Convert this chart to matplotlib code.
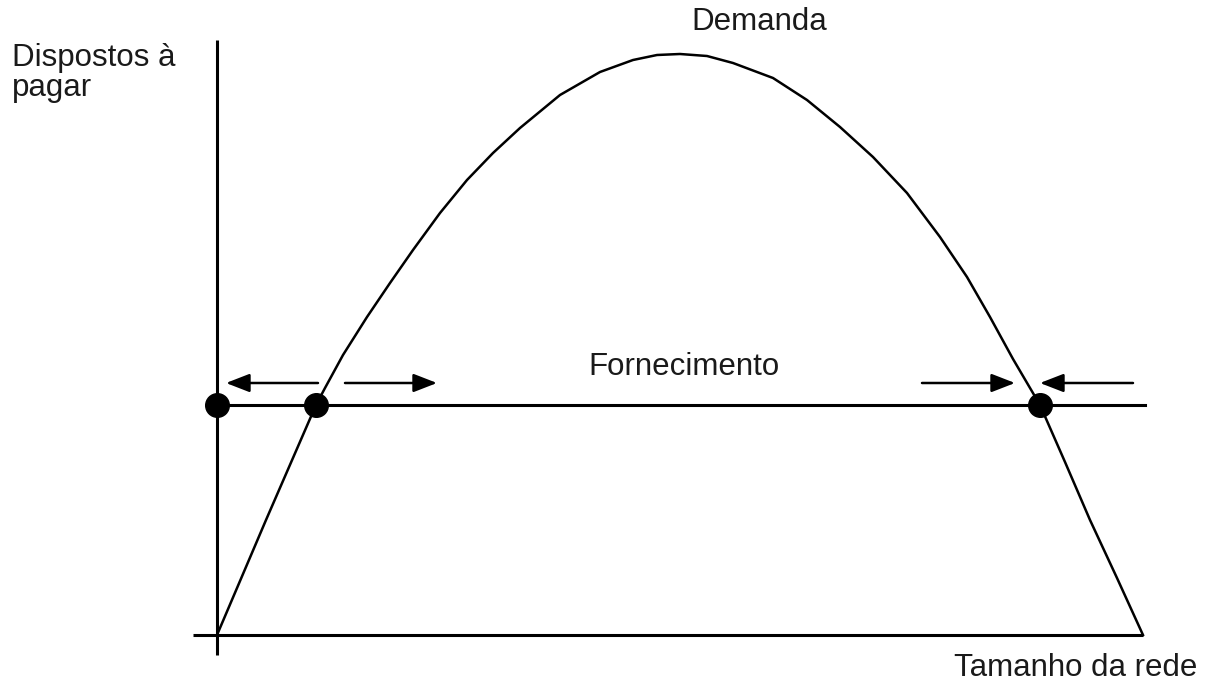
import matplotlib.pyplot as plt
import numpy as np

plt.rcParams["font.family"] = ["Liberation Sans", "DejaVu Sans"]

# Demand curve (x = network size, y = willingness to pay)
demand_x = [0, 49, 99, 108, 126, 150, 173, 196, 223, 250, 276, 303, 343, 383,
            416, 440, 463, 490, 516, 556, 590, 623, 656, 690, 723, 750, 773,
            796, 823, 848, 873, 900, 926]
demand_y = [0, 115, 230, 247, 280, 318, 352, 385, 422, 455, 482, 507, 540, 563,
            575, 580, 581, 579, 572, 557, 535, 508, 478, 442, 398, 358, 318,
            276, 230, 173, 115, 57, 0]

supply_level = 230
supply_end = 928
equilibria_x = [0, 99, 823]

# arrows: (start x, end x) at a fixed height above the supply line
arrow_y = 252
arrows = [(101, 9), (128, 220), (705, 798), (916, 823)]

fig = plt.figure(figsize=(12.09, 6.88), dpi=100)
ax = fig.add_axes([0, 0, 1, 1])
ax.set_xlim(-217, 992)
ax.set_ylim(-53, 635)
ax.axis("off")

# axes
ax.plot([-24, 926], [0, 0], color="black", lw=2.2, solid_capstyle="butt")
ax.plot([0, 0], [-20, 595], color="black", lw=2.2, solid_capstyle="butt")

# supply and demand
ax.plot([0, supply_end], [supply_level, supply_level], color="black", lw=2.2)
ax.plot(demand_x, demand_y, color="black", lw=1.8, solid_joinstyle="round")

ax.plot(equilibria_x, [supply_level] * len(equilibria_x), "o", color="black",
        markersize=17)

for x0, x1 in arrows:
    ax.annotate("", xy=(x1, arrow_y), xytext=(x0, arrow_y),
                arrowprops=dict(arrowstyle="-|>,head_length=0.9,head_width=0.35",
                                mutation_scale=16, color="black", lw=1.8,
                                shrinkA=0, shrinkB=0))

txt = "#1a1a1a"
ax.text(-205, 562, "Dispostos à\npagar", fontsize=22.5, color=txt,
        ha="left", va="center", linespacing=1.0)
ax.text(542, 613, "Demanda", fontsize=22.5, color=txt, ha="center", va="center")
ax.text(371, 268, "Fornecimento", fontsize=22.5, color=txt, ha="left", va="center")
ax.text(980, -33, "Tamanho da rede", fontsize=22.5, color=txt,
        ha="right", va="center")

fig.savefig("out.png", dpi=100)
